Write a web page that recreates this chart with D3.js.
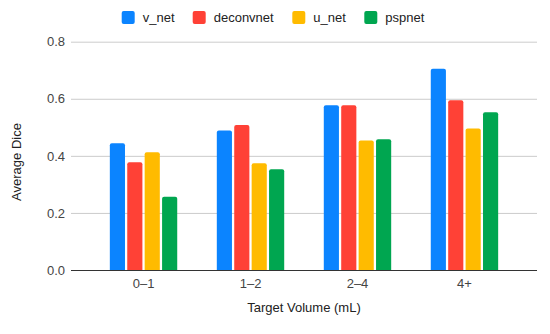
<!DOCTYPE html>
<html>
  <head>
    <meta http-equiv="Content-Type" content="text/html;charset=utf-8"/>
    <title>Average Dice by Target Volume</title>
    <script src="https://d3js.org/d3.v7.min.js" charset="utf-8"></script>
    <style>
      body { margin: 0; background: #fff; font-family: 'Liberation Sans', Arial, sans-serif; }
      svg text { font-family: 'Liberation Sans', Arial, sans-serif; }
      .tick text { fill: #444; font-size: 13px; }
      .title { fill: #222; font-size: 13px; }
    </style>
  </head>
  <body>
    <div id="chart"></div>
  <script>
  //////////////////////// Data ////////////////////////////
  var categories = ["0\u20131", "1\u20132", "2\u20134", "4+"];
  var seriesNames = ["v_net", "deconvnet", "u_net", "pspnet"];
  var colors = ["#0b84ff", "#ff4136", "#ffbb00", "#00a650"];
  var v_net     = [0.444, 0.489, 0.577, 0.705];
  var deconvnet = [0.378, 0.508, 0.577, 0.595];
  var u_net     = [0.413, 0.374, 0.454, 0.496];
  var pspnet    = [0.257, 0.353, 0.458, 0.553];
  var yTicks = [0, 0.2, 0.4, 0.6, 0.8];

  var values = [v_net, deconvnet, u_net, pspnet];

  //////////////////////// Set-Up ////////////////////////////
  var width = 550, height = 334;
  var margin = {left: 71, right: 13, top: 41.7, bottom: 64};

  var svg = d3.select("#chart").append("svg")
      .attr("width", width)
      .attr("height", height);

  var x0 = d3.scaleBand()
      .domain(categories)
      .range([margin.left, width - margin.right])
      .paddingInner(0.37)
      .paddingOuter(0.363);

  var x1 = d3.scaleBand()
      .domain(seriesNames)
      .range([0, x0.bandwidth()])
      .paddingInner(0.13);

  var y = d3.scaleLinear()
      .domain([0, 0.8])
      .range([height - margin.bottom, margin.top]);

  // gridlines + y labels
  var yAxis = svg.append("g")
      .attr("transform", "translate(" + margin.left + ",0)")
      .call(d3.axisLeft(y).tickValues(yTicks).tickFormat(d3.format(".1f"))
            .tickSize(-(width - margin.left - margin.right)).tickPadding(6));
  yAxis.attr("font-family", null);
  yAxis.select(".domain").remove();
  yAxis.selectAll(".tick line").attr("stroke", "#ccc");

  // x labels
  var xAxis = svg.append("g")
      .attr("transform", "translate(0," + (height - margin.bottom) + ")")
      .call(d3.axisBottom(x0).tickSize(0).tickPadding(9));
  xAxis.attr("font-family", null);
  xAxis.select(".domain").remove();

  // bars with slightly rounded tops
  function barPath(x, w, y0, y1) {
    var r = Math.min(2, (y0 - y1) / 2);
    return "M" + x + "," + y0 +
      "V" + (y1 + r) + "Q" + x + "," + y1 + " " + (x + r) + "," + y1 +
      "H" + (x + w - r) + "Q" + (x + w) + "," + y1 + " " + (x + w) + "," + (y1 + r) +
      "V" + y0 + "Z";
  }

  var groups = svg.selectAll(".grp")
      .data(categories)
      .enter().append("g")
      .attr("class", "grp")
      .attr("transform", function(d) { return "translate(" + x0(d) + ",0)"; });

  groups.selectAll("path")
      .data(function(d, i) {
        return seriesNames.map(function(s, j) { return {s: s, j: j, v: values[j][i]}; });
      })
      .enter().append("path")
      .attr("fill", function(d) { return colors[d.j]; })
      .attr("d", function(d) { return barPath(x1(d.s), x1.bandwidth(), y(0), y(d.v)); });

  // baseline
  svg.append("line")
      .attr("x1", margin.left).attr("x2", width - margin.right)
      .attr("y1", y(0) + 0.5).attr("y2", y(0) + 0.5)
      .attr("stroke", "#333");

  // axis titles
  svg.append("text").attr("class", "title")
      .attr("text-anchor", "middle")
      .attr("x", (margin.left + width - margin.right) / 2)
      .attr("y", 312)
      .text("Target Volume (mL)");

  svg.append("text").attr("class", "title")
      .attr("text-anchor", "middle")
      .attr("transform", "translate(21,162) rotate(-90)")
      .text("Average Dice");

  // legend
  var legendX = [121.7, 192.7, 292.3, 364.3];
  var legend = svg.selectAll(".legend")
      .data(seriesNames)
      .enter().append("g")
      .attr("class", "legend")
      .attr("transform", function(d, i) { return "translate(" + legendX[i] + ",11)"; });
  legend.append("rect")
      .attr("width", 13).attr("height", 13).attr("rx", 2)
      .attr("fill", function(d, i) { return colors[i]; });
  legend.append("text")
      .attr("x", 21).attr("y", 11)
      .attr("fill", "#222").style("font-size", "13px")
      .text(function(d) { return d; });
  </script>
  </body>
</html>
